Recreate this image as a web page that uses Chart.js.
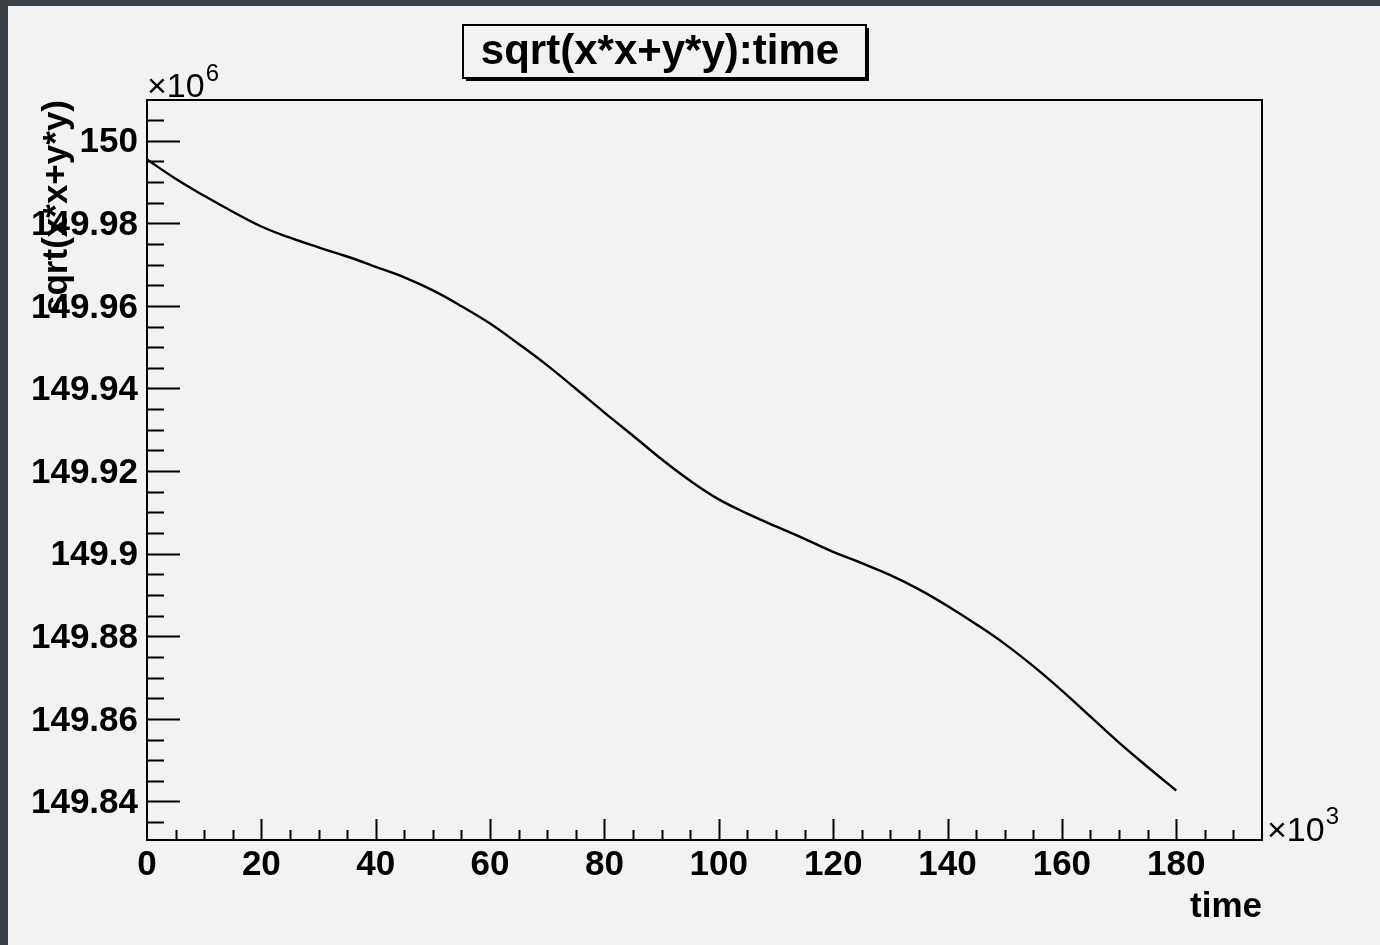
<!DOCTYPE html>
<html>
<head>
<meta charset="utf-8">
<title>sqrt(x*x+y*y):time</title>
<script src="https://cdn.jsdelivr.net/npm/chart.js@4.4.1/dist/chart.umd.min.js"></script>
<style>
    html, body { margin: 0; padding: 0; background: #3a4043; overflow: hidden; }
    .pad { position: absolute; left: 8px; top: 6px; width: 1372px; height: 939px; background: #f2f2f2; }
    canvas { display: block; }
</style>
</head>
<body>
<div class="pad"><canvas id="radiusChart" width="1372" height="939"></canvas></div>
<script>
// time in units of 10^3
const timeK = [0, 5, 10, 15, 20, 25, 30, 35, 40, 45, 50, 55, 60, 65, 70, 75, 80, 85, 90,
    95, 100, 105, 110, 115, 120, 125, 130, 135, 140, 145, 150, 155, 160, 165, 170, 175, 180];

// sqrt(x*x+y*y) in units of 10^6
const radiusM = [149.99545, 149.99080, 149.98666, 149.98281, 149.97923, 149.97651, 149.97416,
    149.97196, 149.96947, 149.96690, 149.96375, 149.95993, 149.95574, 149.95078, 149.94559,
    149.93993, 149.93417, 149.92857, 149.92286, 149.91765, 149.91315, 149.90971, 149.90661,
    149.90361, 149.90044, 149.89772, 149.89482, 149.89136, 149.88734, 149.88293, 149.87816,
    149.87276, 149.86685, 149.86056, 149.85424, 149.84835, 149.84266];

const xTicks = [0, 20, 40, 60, 80, 100, 120, 140, 160, 180];
const xTickLabels = ['0', '20', '40', '60', '80', '100', '120', '140', '160', '180'];
const yTicks = [149.84, 149.86, 149.88, 149.9, 149.92, 149.94, 149.96, 149.98, 150];
const yTickLabels = ['149.84', '149.86', '149.88', '149.9', '149.92', '149.94', '149.96', '149.98', '150'];

const xMin = 0, xMax = 195, xMinorStep = 5;
const yMin = 149.830675, yMax = 150.009855, yMinorStep = 0.005;

const FONT = '"Liberation Sans", Arial, Helvetica, sans-serif';
const ink = '#000000';
const paper = '#f2f2f2';

// frame, inward ticks, title box and exponent labels
const rootFrame = {
    id: 'rootFrame',
    afterDraw(chart) {
        const { ctx, chartArea: a, scales: { x, y } } = chart;
        ctx.save();
        ctx.strokeStyle = ink;
        ctx.lineWidth = 2;
        ctx.strokeRect(a.left, a.top, a.right - a.left, a.bottom - a.top);

        ctx.beginPath();
        // y axis ticks
        for (let v = yMin + 0.004325; v < yMax; v += yMinorStep) {
            const py = Math.round(y.getPixelForValue(v)) + 0.5;
            const major = yTicks.some(t => Math.abs(t - v) < 1e-6);
            ctx.moveTo(a.left, py);
            ctx.lineTo(a.left + (major ? 33 : 17), py);
        }
        // x axis ticks
        for (let v = xMinorStep; v < xMax; v += xMinorStep) {
            const px = Math.round(x.getPixelForValue(v)) + 0.5;
            const major = xTicks.includes(v);
            ctx.moveTo(px, a.bottom);
            ctx.lineTo(px, a.bottom - (major ? 21 : 10));
        }
        ctx.stroke();

        // title box with drop shadow
        const bx = 455, by = 19, bw = 403, bh = 53;
        ctx.fillStyle = ink;
        ctx.fillRect(bx + 3, by + 3, bw, bh);
        ctx.fillStyle = paper;
        ctx.fillRect(bx, by, bw, bh);
        ctx.strokeRect(bx, by, bw, bh);
        ctx.fillStyle = ink;
        ctx.font = 'bold 42px ' + FONT;
        ctx.textAlign = 'center';
        ctx.textBaseline = 'alphabetic';
        ctx.fillText('sqrt(x*x+y*y):time', 652, 58);

        // exponent labels
        ctx.textAlign = 'left';
        ctx.font = '34px ' + FONT;
        ctx.fillText('\u00d710', a.left, a.top - 3);
        let w = ctx.measureText('\u00d710').width;
        ctx.font = '24px ' + FONT;
        ctx.fillText('6', a.left + w + 1, a.top - 19);

        ctx.font = '34px ' + FONT;
        ctx.fillText('\u00d710', a.right + 5, a.bottom + 1);
        w = ctx.measureText('\u00d710').width;
        ctx.font = '24px ' + FONT;
        ctx.fillText('3', a.right + 5 + w + 1, a.bottom - 16);
        ctx.restore();
    }
};

new Chart(document.getElementById('radiusChart'), {
    type: 'line',
    data: {
        datasets: [{
            data: timeK.map((t, i) => ({ x: t, y: radiusM[i] })),
            borderColor: ink,
            borderWidth: 2.4,
            pointRadius: 0,
            fill: false,
            tension: 0.4
        }]
    },
    options: {
        responsive: false,
        animation: false,
        devicePixelRatio: 1,
        layout: { padding: { left: 0, top: 94, right: 118, bottom: 5 } },
        plugins: {
            legend: { display: false },
            tooltip: { enabled: false }
        },
        scales: {
            x: {
                type: 'linear',
                min: xMin,
                max: xMax,
                afterBuildTicks: s => { s.ticks = xTicks.map(v => ({ value: v })); },
                afterFit: s => { s.height = 100; },
                grid: { display: false, drawTicks: false },
                border: { display: false },
                ticks: {
                    color: ink,
                    padding: 4,
                    maxRotation: 0,
                    autoSkip: false,
                    font: { family: FONT, size: 35, weight: 'bold' },
                    callback: (v, i) => xTickLabels[i]
                },
                title: {
                    display: true,
                    text: 'time',
                    align: 'end',
                    color: ink,
                    padding: { top: 0, bottom: 12 },
                    font: { family: FONT, size: 35, weight: 'bold' }
                }
            },
            y: {
                type: 'linear',
                min: yMin,
                max: yMax,
                afterBuildTicks: s => { s.ticks = yTicks.map(v => ({ value: v })); },
                afterFit: s => { s.width = 139; },
                grid: { display: false, drawTicks: false },
                border: { display: false },
                ticks: {
                    color: ink,
                    padding: 9,
                    labelOffset: 2,
                    autoSkip: false,
                    font: { family: FONT, size: 35, weight: 'bold' },
                    callback: (v, i) => yTickLabels[i]
                },
                title: {
                    display: true,
                    text: 'sqrt(x*x+y*y)',
                    align: 'end',
                    color: ink,
                    padding: { top: 28, bottom: 0 },
                    font: { family: FONT, size: 35, weight: 'bold' }
                }
            }
        }
    },
    plugins: [rootFrame]
});
</script>
</body>
</html>
